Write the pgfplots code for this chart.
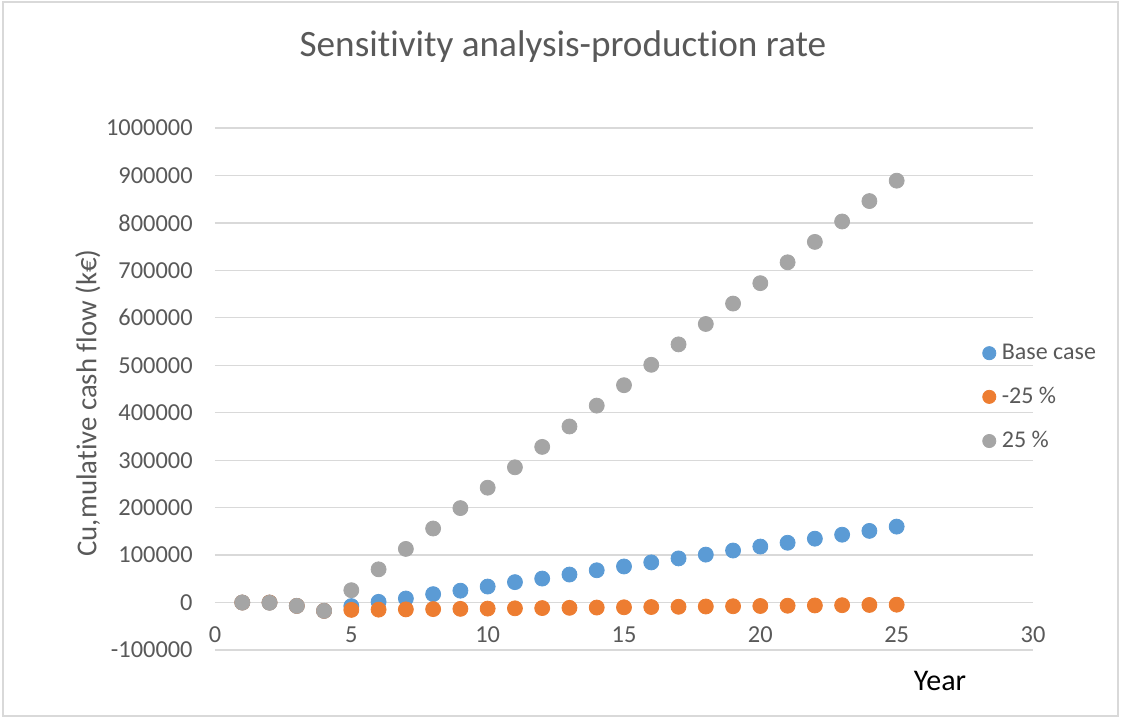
\documentclass[border=0pt]{standalone}
\usepackage{fontspec}
\setmainfont{Carlito}[Ligatures=NoCommon]
\usepackage{pgfplots}
\usepackage{pgfplotstable}
\pgfplotsset{compat=1.18}
\definecolor{cblue}{HTML}{5B9BD5}
\definecolor{corange}{HTML}{ED7D31}
\definecolor{cgray}{HTML}{A5A5A5}
\definecolor{gridc}{HTML}{D9D9D9}
\definecolor{txt}{HTML}{595959}

\pgfplotstableread{
year base minus plus
1 0 0 0
2 0 0 -500
3 -7000 -7000 -7000
4 -17500 -17500 -17500
5 -7500 -15500 26000
6 1500 -14950 70000
7 8500 -14400 113000
8 17700 -13850 156000
9 25000 -13300 199000
10 33700 -12750 242000
11 43000 -12200 285000
12 50500 -11650 328000
13 59000 -11100 371000
14 68000 -10550 415000
15 76000 -10000 458000
16 84600 -9450 501000
17 93000 -8900 544000
18 101000 -8350 587000
19 109600 -7800 630000
20 118000 -7250 673000
21 126000 -6700 717000
22 134600 -6150 760000
23 143000 -5600 803000
24 151000 -5050 846000
25 160000 -4500 889000
}\data

\begin{document}
\begin{tikzpicture}
\useasboundingbox (-107.5bp,-34bp) rectangle (453bp,325bp);
\draw[gridc, line width=0.6bp] (-106bp,-33bp) rectangle (451.5bp,324bp);
\begin{axis}[
  at={(0,0)}, anchor=south west,
  scale only axis, width=409bp, height=261bp,
  xmin=0, xmax=30, ymin=-100000, ymax=1000000,
  xtick={0,5,10,15,20,25,30},
  ytick={-100000,0,100000,200000,300000,400000,500000,600000,700000,800000,900000,1000000},
  scaled y ticks=false, scaled x ticks=false,
  axis line style={draw=none},
  major tick length=0pt,
  ymajorgrids, major grid style={draw=gridc, line width=0.6bp},
  /pgf/number format/assume math mode=true,
  /pgf/number format/fixed,
  /pgf/number format/1000 sep={},
  tick label style={font=\fontsize{12.2bp}{14bp}\selectfont, text=txt},
  yticklabel style={anchor=east, inner xsep=0pt, xshift=-11bp},
  xticklabel style={anchor=center, yshift=7.5bp},
  title={Sensitivity analysis-production rate},
  title style={at={(axis description cs:0.4254,1.1552)}, anchor=center, yshift=-6pt, font=\fontsize{18.6bp}{22bp}\selectfont, text=txt},
  ylabel={Cu,mulative cash flow (k€)},
  ylabel style={at={(axis description cs:-0.1553,0.4732)}, anchor=center, font=\fontsize{14.4bp}{17bp}\selectfont, text=txt},
  xlabel={Year},
  xlabel style={at={(axis description cs:0.8863,-0.0600)}, anchor=center, font=\fontsize{15bp}{18bp}\selectfont, text=black},
  legend style={at={(axis description cs:0.938,0.4840)}, anchor=west, draw=none, fill=none, inner sep=0pt,
    font=\fontsize{12bp}{14bp}\selectfont, text=txt, row sep=10.4bp,
    nodes={inner xsep=3bp, inner ysep=1bp}},
  legend cell align=left,
  legend image code/.code={\draw[#1, mark size=3.3bp] plot coordinates {(0bp,0bp)};},
  clip=false,
]
\addplot[only marks, mark=*, mark size=3.75bp, cblue, mark options={fill=cblue, draw=cblue}] table[x=year, y=base] {\data};
\addlegendentry{Base case}
\addplot[only marks, mark=*, mark size=3.75bp, corange, mark options={fill=corange, draw=corange}] table[x=year, y=minus] {\data};
\addlegendentry{-25 \%}
\addplot[only marks, mark=*, mark size=3.75bp, cgray, mark options={fill=cgray, draw=cgray}] table[x=year, y=plus] {\data};
\addlegendentry{25 \%}
\end{axis}
\end{tikzpicture}
\end{document}
